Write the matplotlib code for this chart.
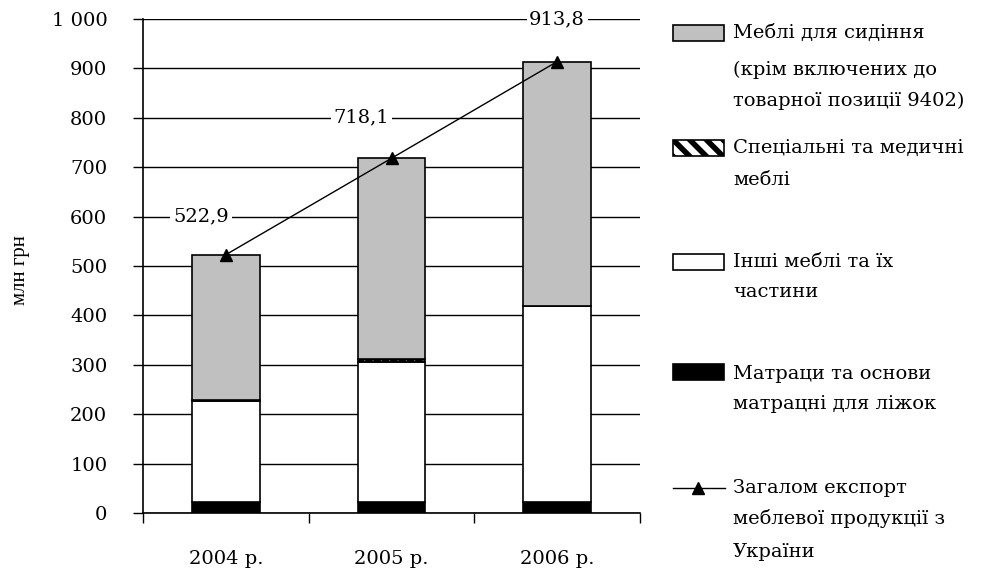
import matplotlib
matplotlib.use("Agg")
import matplotlib.pyplot as plt
from matplotlib.patches import Rectangle
from matplotlib.lines import Line2D
import numpy as np

plt.rcParams['font.family'] = ['DejaVu Serif']
plt.rcParams['hatch.linewidth'] = 4

years = ["2004 р.", "2005 р.", "2006 р."]
totals = [522.9, 718.1, 913.8]
mattresses = [22, 22, 22]
other = [205, 283, 397]
special = [1, 7, 1]
seating = [t - m - o - s for t, m, o, s in zip(totals, mattresses, other, special)]
total_labels = ["522,9", "718,1", "913,8"]
label_y = [600, 800, 1000]
label_dx = [-0.15, -0.18, 0.0]
yticks = [0, 100, 200, 300, 400, 500, 600, 700, 800, 900, 1000]
ytick_labels = ["0", "100", "200", "300", "400", "500", "600", "700", "800", "900", "1 000"]

W, H = 986, 575
fig = plt.figure(figsize=(W / 100, H / 100), dpi=100)
ax = fig.add_axes([143 / W, 1 - 513 / H, (640 - 143) / W, (513 - 19) / H])

x = np.arange(len(years))
bw = 0.41
fs = 14

b1 = np.array(mattresses, float)
b2 = b1 + np.array(other)
b3 = b2 + np.array(special)
ax.bar(x, mattresses, bw, color='black', edgecolor='black', lw=1.2, zorder=3)
ax.bar(x, other, bw, bottom=b1, color='white', edgecolor='black', lw=1.2, zorder=3)
ax.bar(x, special, bw, bottom=b2, color='white', edgecolor='black', hatch='\\\\\\\\', lw=1.2, zorder=3)
ax.bar(x, seating, bw, bottom=b3, color='#c0c0c0', edgecolor='black', lw=1.2, zorder=3)
ax.plot(x, totals, color='black', lw=1, marker='^', ms=9, zorder=5)

for xi, ly, lab, dx in zip(x, label_y, total_labels, label_dx):
    ax.text(xi + dx, ly, lab, ha='center', va='center', fontsize=fs, zorder=4,
            bbox=dict(facecolor='white', edgecolor='none', pad=2))

ax.set_xlim(-0.5, 2.5)
ax.set_ylim(0, 1000)
ax.set_yticks(yticks)
ax.set_yticklabels(ytick_labels, fontsize=fs)
ax.yaxis.grid(True, color='black', lw=1)
ax.set_axisbelow(True)
ax.set_xticks([-0.5, 0.5, 1.5, 2.5])
ax.set_xticklabels([])
ax.set_xticks(x, minor=True)
ax.set_xticklabels(years, minor=True, fontsize=fs)
ax.tick_params(axis='x', which='minor', length=0, pad=27)
ax.tick_params(axis='x', which='major', length=7.2, direction='out', width=1)
ax.tick_params(axis='y', length=7.2, direction='out', width=1, pad=18.5)
for s in ['top', 'right']:
    ax.spines[s].set_visible(False)
for s in ['left', 'bottom']:
    ax.spines[s].set_linewidth(1.2)
ax.set_ylabel("млн грн", fontsize=15, family=['Liberation Serif', 'DejaVu Serif'])
ax.yaxis.set_label_coords(-(143 - 30) / (640 - 143), (513 - 270) / (513 - 19))

# legend drawn manually in pixel coordinates
def fx(px):
    return px / W

def fy(py):
    return 1 - py / H

def patch(yc, **kw):
    r = Rectangle((fx(673), fy(yc + 8)), 51 / W, 16 / H, transform=fig.transFigure,
                  edgecolor='black', lw=1.2, **kw)
    fig.add_artist(r)

patch(33, facecolor='#c0c0c0')
patch(148, facecolor='white', hatch='\\\\')
patch(262, facecolor='white')
patch(372, facecolor='black')
fig.add_artist(Line2D([fx(673), fx(725)], [fy(488), fy(488)], transform=fig.transFigure,
                      color='black', lw=1))
fig.add_artist(Line2D([fx(698)], [fy(488)], transform=fig.transFigure,
                      color='black', marker='^', ms=9))

lines = [
    ("Меблі для сидіння", 33),
    ("(крім включених до", 70),
    ("товарної позиції 9402)", 101),
    ("Спеціальні та медичні", 148),
    ("меблі", 180),
    ("Інші меблі та їх", 262),
    ("частини", 292),
    ("Матраци та основи", 374),
    ("матрацні для ліжок", 404),
    ("Загалом експорт", 488),
    ("меблевої продукції з", 518),
    ("України", 552),
]
for txt, py in lines:
    fig.text(fx(733), fy(py), txt, ha='left', va='center', fontsize=fs)

fig.savefig("out.png", dpi=100)
